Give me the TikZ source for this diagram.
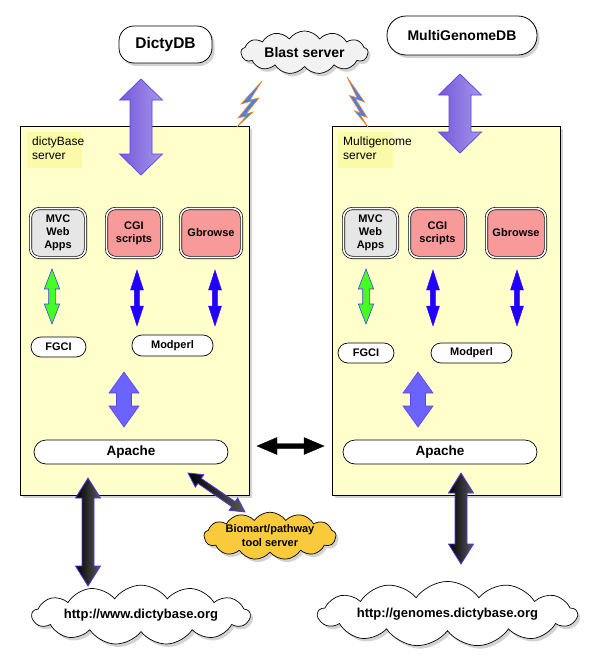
\documentclass[tikz,border=0pt]{standalone}
\usepackage{fontspec}
\setmainfont{Liberation Sans}
\usetikzlibrary{calc, shapes.symbols, shadows}

\definecolor{srvfill}{HTML}{FFFFCC}
\definecolor{tagfill}{HTML}{FAFAA8}
\definecolor{mvcfill}{HTML}{E6E6E6}
\definecolor{cgifill}{HTML}{F99A9A}
\definecolor{arrowedge}{HTML}{5236F0}
\definecolor{purpleA}{HTML}{7558D6}
\definecolor{purpleB}{HTML}{A596EE}
\definecolor{purpleedge}{HTML}{5A44E8}
\definecolor{midpurple}{HTML}{6B63FF}
\definecolor{greenfill}{HTML}{44FF22}
\definecolor{bluefill}{HTML}{2200FF}
\definecolor{boltfill}{HTML}{4A7FE6}
\definecolor{boltedge}{HTML}{E8862E}
\definecolor{cloudgray}{HTML}{F2F2F2}
\definecolor{gold}{HTML}{F9CB3C}

\tikzset{
  boxshadow/.style={drop shadow={shadow xshift=2.5pt, shadow yshift=-3pt, opacity=0.35}},
  db/.style={draw, fill=white, line width=0.8pt, rounded corners=15pt, inner sep=0pt, boxshadow},
  server/.style={draw, fill=srvfill, line width=0.8pt, minimum height=369pt, boxshadow},
  srvtag/.style={anchor=north west, align=left, inner sep=0pt, font=\fontsize{12}{14}\selectfont},
  app/.style={draw=black, double=white, double distance=1.6pt, line width=0.7pt, rounded corners=9pt,
    minimum height=49pt, align=center, inner sep=0pt, font=\fontsize{11}{13}\selectfont\bfseries},
  pill/.style={draw, fill=white, line width=0.7pt, rounded corners=10pt, inner sep=0pt,
    font=\fontsize{11}{13}\selectfont\bfseries},
  cloudy/.style={cloud, cloud puffs=13, cloud puff arc=110, draw, line width=0.7pt, inner sep=0pt, boxshadow},
  bolt/.style={fill=boltfill, draw=boltedge, line width=0.6pt},
  fatpurple/.style={left color=purpleA, right color=purpleB, draw=purpleedge, line width=0.7pt},
  modarrow/.style={fill=midpurple, draw=purpleedge, line width=0.6pt},
  greenarrow/.style={fill=greenfill, draw=arrowedge, line width=0.6pt},
  bluearrow/.style={fill=bluefill, draw=bluefill, line width=0.4pt},
  blackarrow/.style={left color=black, right color=black!65, draw=arrowedge, line width=0.8pt},
  plainblack/.style={fill=black, draw=black, line width=0.4pt}
}

% double block arrow: [style]{from}{to}{shaft half width}{head half width}{head length}
\newcommand{\fatarrow}[6][]{%
  \path[#1] let \p1=(#2), \p2=(#3), \n1={atan2(\y2-\y1,\x2-\x1)},
    \n2={veclen(\x2-\x1,\y2-\y1)}, \n3={\n2-#6} in
    [shift={(\p1)}, rotate=\n1]
    (0pt,0pt) -- (#6pt,#5pt) -- (#6pt,#4pt) -- (\n3,#4pt) -- (\n3,#5pt) -- (\n2,0pt)
    -- (\n3,-#5pt) -- (\n3,-#4pt) -- (#6pt,-#4pt) -- (#6pt,-#5pt) -- cycle;}

\begin{document}
\begin{tikzpicture}[x=1pt, y=-1pt]
\useasboundingbox (0,0) rectangle (608,667);

% databases and blast
\node[db, minimum width=93pt, minimum height=37pt, font=\fontsize{15.5}{18}\selectfont\bfseries] (dictydb) at (165.5,44.5) {DictyDB};
\node[cloudy, fill=cloudgray, minimum width=127pt, minimum height=39pt, aspect=3.8,
  font=\fontsize{14}{16}\selectfont\bfseries] (blast) at (304.5,52.5) {Blast server};
\node[db, rounded corners=19pt, minimum width=150pt, minimum height=39pt, font=\fontsize{14}{16}\selectfont\bfseries] (multidb) at (462,35.5) {MultiGenomeDB};

% the two servers
\node[server, minimum width=229pt] (srvL) at (134.5,310.5) {};
\node[server, minimum width=228pt] (srvR) at (446,310.5) {};
\fill[tagfill] (27,132) rectangle (82,168);
\fill[tagfill] (338,132) rectangle (393,168);
\node[srvtag] (tagL) at (32,137) {dictyBase\\server};
\node[srvtag] (tagR) at (343,137) {Multigenome\\server};

% applications
\node[app, fill=mvcfill, minimum width=55pt] (mvcL) at (58,233) {MVC\\Web\\Apps};
\node[app, fill=cgifill, minimum width=55pt] (cgiL) at (134,233) {CGI\\scripts};
\node[app, fill=cgifill, minimum width=61pt] (gbrL) at (211,233) {Gbrowse};
\node[app, fill=mvcfill, minimum width=54pt] (mvcR) at (370.5,233) {MVC\\Web\\Apps};
\node[app, fill=cgifill, minimum width=56pt] (cgiR) at (437.5,233) {CGI\\scripts};
\node[app, fill=cgifill, minimum width=59pt] (gbrR) at (516,233) {Gbrowse};

% handlers
\node[pill, minimum width=55pt, minimum height=20pt] (fgciL) at (58.5,347) {FGCI};
\node[pill, minimum width=81pt, minimum height=21pt] (modL) at (172.5,345.5) {Modperl};
\node[pill, minimum width=56pt, minimum height=20pt] (fgciR) at (366,353) {FGCI};
\node[pill, minimum width=81pt, minimum height=20pt] (modR) at (471.5,353) {Modperl};
\node[pill, rounded corners=12pt, minimum width=194pt, minimum height=24pt,
  font=\fontsize{13.5}{16}\selectfont\bfseries] (apacheL) at (131,452) {Apache};
\node[pill, rounded corners=12pt, minimum width=194pt, minimum height=24pt,
  font=\fontsize{13.5}{16}\selectfont\bfseries] (apacheR) at (440,452) {Apache};

% clouds
\node[cloudy, fill=gold, minimum width=132pt, minimum height=38pt, aspect=3.8, align=center,
  font=\fontsize{11}{14}\selectfont\bfseries] (biomart) at (270,536) {Biomart/pathway\\tool server};
\node[cloudy, fill=white, minimum width=218pt, minimum height=54pt, aspect=6.5,
  font=\fontsize{13}{15}\selectfont\bfseries] (webL) at (141,615) {http://www.dictybase.org};
\node[cloudy, fill=white, minimum width=259pt, minimum height=52pt, aspect=7.5,
  font=\fontsize{13}{15}\selectfont\bfseries] (webR) at (447.5,614) {http://genomes.dictybase.org};

% lightning to blast
\draw[bolt, shift={(237,81)}] (25,0) -- (4,23) -- (15,20) -- (1,37) -- (9,35) -- (0,46)
  -- (16,31) -- (9,33) -- (22,17) -- (13,19) -- cycle;
\draw[bolt, shift={(368,77)}, xscale=-0.84, yscale=1.09] (25,0) -- (4,23) -- (15,20) -- (1,37) -- (9,35) -- (0,46)
  -- (16,31) -- (9,33) -- (22,17) -- (13,19) -- cycle;

% arrow ends
\coordinate (dbL1) at (141,79);  \coordinate (dbL2) at (141,175);
\coordinate (dbR1) at (460,74);  \coordinate (dbR2) at (460,153);
\coordinate (gL1) at (52,269);   \coordinate (gL2) at (52,324);
\coordinate (gR1) at (366,269);  \coordinate (gR2) at (366,324);
\coordinate (bL1) at (137,270);  \coordinate (bL2) at (137,326);
\coordinate (bL3) at (215,270);  \coordinate (bL4) at (215,326);
\coordinate (bR1) at (433,270);  \coordinate (bR2) at (433,326);
\coordinate (bR3) at (517,270);  \coordinate (bR4) at (517,326);
\coordinate (mL1) at (124,372);  \coordinate (mL2) at (124,427);
\coordinate (mR1) at (418,372);  \coordinate (mR2) at (418,427);
\coordinate (wL1) at (88,478);   \coordinate (wL2) at (88,586);
\coordinate (wR1) at (461,473);  \coordinate (wR2) at (461,564);
\coordinate (hz1) at (257,446);  \coordinate (hz2) at (324,446);
\coordinate (bm1) at (188,473);  \coordinate (bm2) at (245,512);

\fatarrow[fatpurple]{dbL1}{dbL2}{11}{21.5}{21}
\fatarrow[fatpurple]{dbR1}{dbR2}{11}{21.5}{21}
\fatarrow[greenarrow]{gL1}{gL2}{3.3}{7.7}{20}
\fatarrow[greenarrow]{gR1}{gR2}{3.3}{7.7}{20}
\fatarrow[bluearrow]{bL1}{bL2}{2.7}{6.5}{20}
\fatarrow[bluearrow]{bL3}{bL4}{2.7}{6.5}{20}
\fatarrow[bluearrow]{bR1}{bR2}{2.7}{6.5}{20}
\fatarrow[bluearrow]{bR3}{bR4}{2.7}{6.5}{20}
\fatarrow[modarrow]{mL1}{mL2}{7.5}{15}{21}
\fatarrow[modarrow]{mR1}{mR2}{7.5}{15}{21}
\fatarrow[blackarrow]{wL1}{wL2}{6}{12.5}{20}
\fatarrow[blackarrow]{wR1}{wR2}{6}{12.5}{20}
\fatarrow[plainblack]{hz1}{hz2}{2.5}{8.5}{20}
\fatarrow[blackarrow]{bm1}{bm2}{3}{7.5}{14}
\end{tikzpicture}
\end{document}
